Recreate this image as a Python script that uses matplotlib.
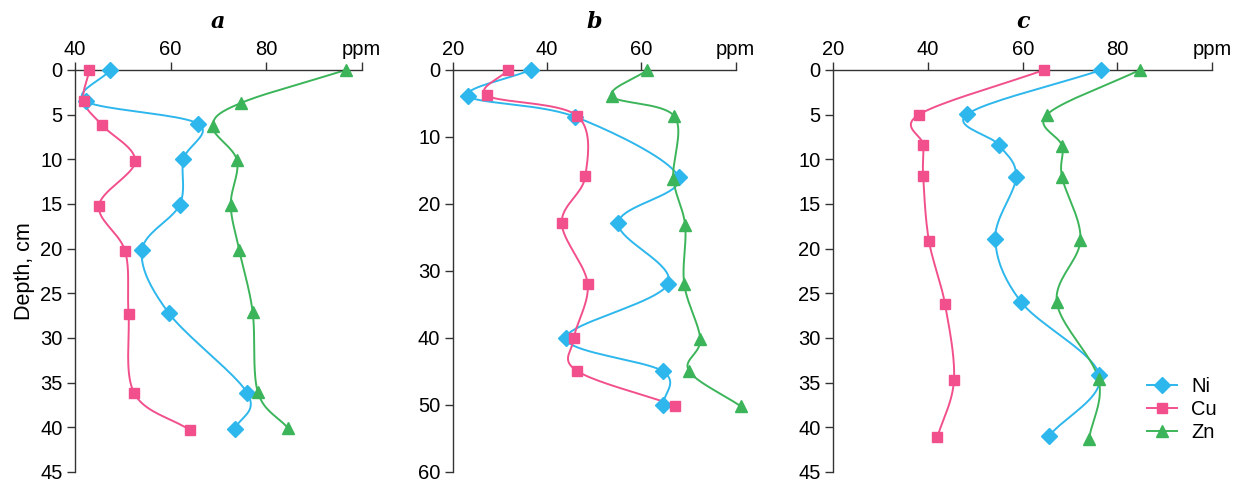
import numpy as np
import matplotlib
matplotlib.use("Agg")
from matplotlib import pyplot as plt

# Depth profiles (depth in cm, concentration in ppm)
# panel a
depth_a_ni = [0, 3.5, 6.0, 10.0, 15.1, 20.2, 27.2, 36.2, 40.2]
ni_a = [47.4, 42.2, 65.7, 62.7, 61.9, 54.0, 59.6, 76.1, 73.5]
depth_a_cu = [0, 3.5, 6.2, 10.2, 15.2, 20.3, 27.3, 36.2, 40.3]
cu_a = [43.0, 41.8, 45.7, 52.6, 45.0, 50.5, 51.2, 52.4, 64.0]
depth_a_zn = [0, 3.7, 6.3, 10.1, 15.1, 20.2, 27.1, 36.1, 40.1]
zn_a = [96.7, 74.7, 68.8, 73.9, 72.6, 74.4, 77.2, 78.3, 84.6]

# panel b
depth_b_ni = [0, 3.9, 7.0, 16.0, 22.8, 31.9, 40.0, 45.0, 50.0]
ni_b = [36.5, 23.3, 46.0, 67.9, 55.1, 65.7, 44.0, 64.6, 64.6]
depth_b_cu = [0, 3.8, 6.8, 15.9, 22.8, 31.9, 40.0, 44.9, 50.1]
cu_b = [31.7, 27.2, 46.3, 48.1, 43.1, 48.6, 45.7, 46.3, 67.2]
depth_b_zn = [0, 3.9, 6.9, 16.2, 23.2, 32.0, 40.2, 44.9, 50.2]
zn_b = [61.3, 53.7, 67.0, 66.8, 69.3, 69.1, 72.5, 70.1, 81.1]

# panel c
depth_c_ni = [0, 4.95, 8.4, 12.0, 18.9, 26.0, 34.2, 41.0]
ni_c = [76.6, 48.3, 55.0, 58.6, 54.2, 59.7, 76.2, 65.5]
depth_c_cu = [0, 5.0, 8.4, 11.9, 19.1, 26.2, 34.7, 41.1]
cu_c = [64.5, 38.1, 39.0, 39.0, 40.2, 43.6, 45.5, 42.0]
depth_c_zn = [0, 5.0, 8.5, 12.0, 19.0, 26.0, 34.6, 41.3]
zn_c = [84.7, 65.1, 68.3, 68.3, 72.2, 67.2, 76.0, 74.0]

panel_titles = ["a", "b", "c"]
x_ticks = [[40, 60, 80, 100], [20, 40, 60, 80], [20, 40, 60, 80, 100]]
x_ticklabels = [["40", "60", "80", "ppm"], ["20", "40", "60", "ppm"],
                ["20", "40", "60", "80", "ppm"]]
y_ticks = [list(range(0, 50, 5)), list(range(0, 70, 10)), list(range(0, 50, 5))]

COL_NI = "#2db7ec"
COL_CU = "#f2508c"
COL_ZN = "#3cb55a"


def smooth(x, y, n=20):
    # uniform Catmull-Rom curve through the points (line only)
    p = np.column_stack([x, y]).astype(float)
    p = np.vstack([2 * p[0] - p[1], p, 2 * p[-1] - p[-2]])
    out = []
    t = np.linspace(0, 1, n, endpoint=False)[:, None]
    for i in range(1, len(p) - 2):
        p0, p1, p2, p3 = p[i - 1], p[i], p[i + 1], p[i + 2]
        c = 0.5 * ((2 * p1) + (-p0 + p2) * t + (2 * p0 - 5 * p1 + 4 * p2 - p3) * t ** 2
                   + (-p0 + 3 * p1 - 3 * p2 + p3) * t ** 3)
        out.append(c)
    out.append(p[-2][None, :])
    out = np.vstack(out)
    return out[:, 0], out[:, 1]


fig = plt.figure(figsize=(12.51, 4.86), dpi=100)
plt.rcParams["font.family"] = ["Liberation Sans", "DejaVu Sans"]

boxes = [[0.060, 0.029, 0.229, 0.827],
         [0.362, 0.029, 0.226, 0.827],
         [0.666, 0.029, 0.303, 0.827]]
xlims = [(40, 100), (20, 80), (20, 100)]
ylims = [(45, 0), (60, 0), (45, 0)]

data = [
    [(ni_a, depth_a_ni), (cu_a, depth_a_cu), (zn_a, depth_a_zn)],
    [(ni_b, depth_b_ni), (cu_b, depth_b_cu), (zn_b, depth_b_zn)],
    [(ni_c, depth_c_ni), (cu_c, depth_c_cu), (zn_c, depth_c_zn)],
]
styles = [("Ni", COL_NI, "D", 8), ("Cu", COL_CU, "s", 7), ("Zn", COL_ZN, "^", 8.5)]

axes = []
for k in range(3):
    ax = fig.add_axes(boxes[k])
    for (xv, yv), (name, col, mk, ms) in zip(data[k], styles):
        sx, sy = smooth(xv, yv)
        ax.plot(sx, sy, color=col, lw=1.4, zorder=2, clip_on=False)
        ax.plot(xv, yv, ls="none", marker=mk, ms=ms, color=col, mec=col, zorder=3,
                clip_on=False)
    ax.set_xlim(*xlims[k])
    ax.set_ylim(*ylims[k])
    ax.xaxis.tick_top()
    ax.set_xticks(x_ticks[k])
    ax.set_xticklabels(x_ticklabels[k])
    ax.set_yticks(y_ticks[k])
    ax.tick_params(axis="both", labelsize=14.5, length=6, width=1, direction="out", color="#333333")
    ax.tick_params(axis="x", pad=2)
    ax.tick_params(axis="y", pad=3)
    for s in ["right", "bottom"]:
        ax.spines[s].set_visible(False)
    for s in ["top", "left"]:
        ax.spines[s].set_color("#333333")
        ax.spines[s].set_linewidth(1.0)
    ax.set_title(panel_titles[k], fontsize=16, fontweight="bold", fontstyle="italic",
                 family="DejaVu Serif", pad=30)
    axes.append(ax)

axes[0].set_ylabel("Depth, cm", fontsize=15.5, labelpad=4)

handles = [plt.Line2D([], [], color=col, marker=mk, ms=ms, lw=1.4) for (_, col, mk, ms) in styles]
axes[2].legend(handles, [s[0] for s in styles], loc="lower right", bbox_to_anchor=(1.06, 0.03),
               frameon=False, fontsize=14.5, handlelength=1.5, labelspacing=0.2, handletextpad=0.7)

fig.savefig("out.png", dpi=100)
